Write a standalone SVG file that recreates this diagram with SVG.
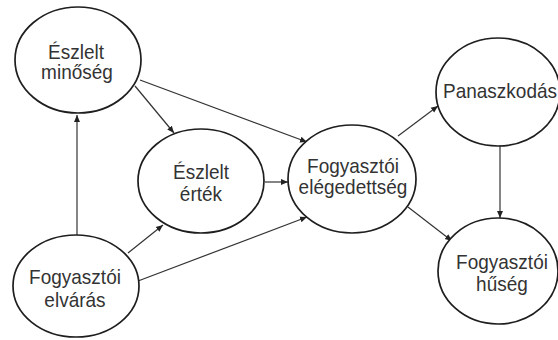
<svg xmlns="http://www.w3.org/2000/svg" width="558" height="340" viewBox="0 0 558 340">
<defs>
<marker id="ah" markerWidth="8" markerHeight="8" refX="7" refY="4" orient="auto" markerUnits="userSpaceOnUse">
<path d="M0,1 L7,4 L0,7 Z" fill="#222"/>
</marker>
<style>
.n ellipse{fill:#fff;stroke:#1e1e1e;stroke-width:1.7}
.n text{font-family:"Liberation Sans",Arial,sans-serif;font-size:19px;fill:#333;text-anchor:middle}
.c line{stroke:#333;stroke-width:1.2;marker-end:url(#ah)}
</style>
</defs>
<rect width="558" height="340" fill="#fff"/>
<g class="c" id="connectors">
<line x1="77" y1="235" x2="77" y2="115"/>
<line x1="135" y1="86" x2="174" y2="133"/>
<line x1="140" y1="80" x2="307" y2="142"/>
<line x1="265" y1="182" x2="288" y2="182"/>
<line x1="128" y1="253" x2="163" y2="225"/>
<line x1="138" y1="281" x2="307" y2="217"/>
<line x1="398" y1="136" x2="438" y2="106"/>
<line x1="500" y1="145" x2="500" y2="218"/>
<line x1="408" y1="207" x2="452" y2="241"/>
</g>
<g class="n" id="eszlelt-minoseg">
<ellipse cx="78" cy="60" rx="63" ry="53"/>
<text x="76" y="59" transform="matrix(1 0 0 1.1 0 -5.9)">Észlelt</text>
<text x="77" y="79" transform="matrix(1 0 0 1.1 0 -7.9)">minőség</text>
</g>
<g class="n" id="eszlelt-ertek">
<ellipse cx="201" cy="181" rx="63" ry="52"/>
<text x="201" y="179" transform="matrix(1 0 0 1.1 0 -17.9)">Észlelt</text>
<text x="201" y="201" transform="matrix(1 0 0 1.1 0 -20.1)">érték</text>
</g>
<g class="n" id="fogyasztoi-elvaras">
<ellipse cx="76" cy="286" rx="63" ry="51"/>
<text x="75" y="284" transform="matrix(1 0 0 1.1 0 -28.4)">Fogyasztói</text>
<text x="75" y="307" transform="matrix(1 0 0 1.1 0 -30.7)">elvárás</text>
</g>
<g class="n" id="fogyasztoi-elegedettseg">
<ellipse cx="352" cy="179" rx="64" ry="54"/>
<text x="353" y="173" transform="matrix(1 0 0 1.1 0 -17.3)">Fogyasztói</text>
<text x="353" y="194" transform="matrix(1 0 0 1.1 0 -19.4)">elégedettség</text>
</g>
<g class="n" id="panaszkodas">
<ellipse cx="498" cy="92" rx="62" ry="54"/>
<text x="500" y="98" transform="matrix(1 0 0 1.1 0 -9.8)">Panaszkodás</text>
</g>
<g class="n" id="fogyasztoi-huseg">
<ellipse cx="498" cy="271" rx="60" ry="53"/>
<text x="502" y="269" transform="matrix(1 0 0 1.1 0 -26.9)">Fogyasztói</text>
<text x="502" y="291" transform="matrix(1 0 0 1.1 0 -29.1)">hűség</text>
</g>
</svg>
